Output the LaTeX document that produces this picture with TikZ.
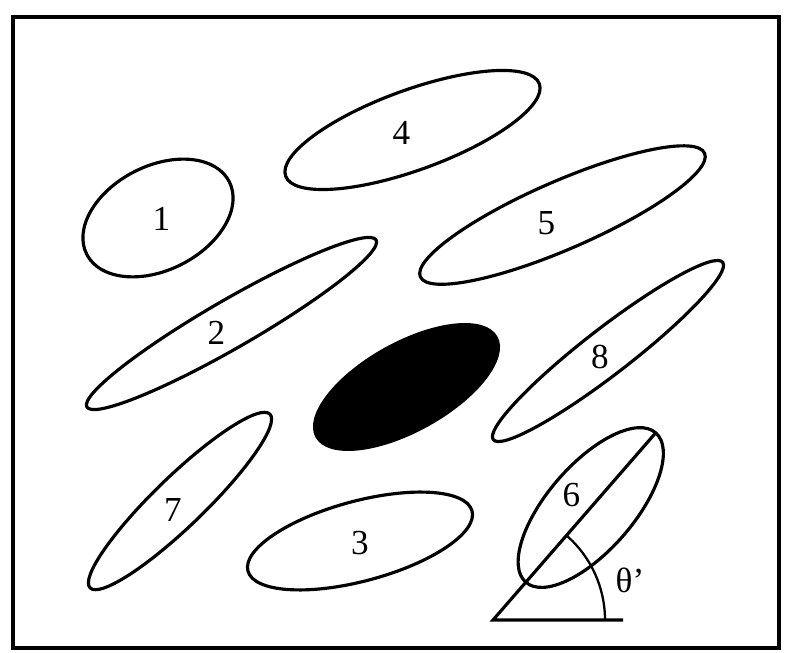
\documentclass[tikz,border=0pt]{standalone}
\usepackage{fontspec}
\setmainfont{Liberation Serif}
\usetikzlibrary{calc}

\begin{document}
\begin{tikzpicture}[
        outline/.style={line width=1.8pt, black},
        num/.style={font=\fontsize{20}{23}\selectfont, inner sep=0pt}
    ]
        \useasboundingbox (0,0) rectangle (15.84,13.04);

        % Frame
        \coordinate (F1) at (0.26, 12.70);
        \coordinate (F2) at (15.58, 0.08);
        \draw[line width=2pt] (F1) rectangle (F2);

        % Centres of the ellipses
        \coordinate (C1) at (3.16, 8.68);
        \coordinate (C2) at (4.63, 6.57);
        \coordinate (C3) at (7.20, 2.22);
        \coordinate (C4) at (8.25, 10.44);
        \coordinate (C5) at (11.25, 8.74);
        \coordinate (C7) at (3.60, 3.02);
        \coordinate (C8) at (12.16, 6.02);
        \coordinate (Cb) at (8.13, 5.30);  % black one

        % Angle vertex, ellipse 6 on its axis
        \coordinate (V) at (9.86, 0.64);
        \coordinate (H) at (12.46, 0.64);
        \coordinate (C6) at ($(V)+(49:2.98)$);
        \coordinate (T6) at ($(V)+(49:4.96)$);

        % Draw the ellipses
        \draw[outline, rotate around={27:(C1)}] (C1) ellipse (1.60 and 1.04);
        \draw[outline, rotate around={30:(C2)}] (C2) ellipse (3.34 and 0.48);
        \draw[outline, rotate around={15:(C3)}] (C3) ellipse (2.32 and 0.80);
        \draw[outline, rotate around={20:(C4)}] (C4) ellipse (2.70 and 0.80);
        \draw[outline, rotate around={23.5:(C5)}] (C5) ellipse (3.10 and 0.68);
        \draw[outline, rotate around={49:(C6)}] (C6) ellipse (1.98 and 0.86);
        \draw[outline, rotate around={44:(C7)}] (C7) ellipse (2.50 and 0.50);
        \draw[outline, rotate around={37.7:(C8)}] (C8) ellipse (2.90 and 0.46);
        \fill[black, rotate around={29:(Cb)}] (Cb) ellipse (2.08 and 0.90);

        % Axis of ellipse 6 and the angle
        \draw[outline] (H) -- (V) -- (T6);
        \draw[line width=1.3pt] ($(V)+(2.24,0)$) arc[start angle=0, end angle=49, radius=2.24];

        % Numbers
        \node[num] (n1) at (3.23, 8.67) {1};
        \node[num] (n2) at (4.33, 6.38) {2};
        \node[num] (n3) at (7.20, 2.18) {3};
        \node[num] (n4) at (8.03, 10.38) {4};
        \node[num] (n5) at (10.93, 8.58) {5};
        \node[num] (n6) at (11.43, 3.14) {6};
        \node[num] (n7) at (3.46, 2.84) {7};
        \node[num] (n8) at (12.00, 5.90) {8};
        \node[num] (theta) at (12.60, 1.44) {θ’};

    \end{tikzpicture}
\end{document}
